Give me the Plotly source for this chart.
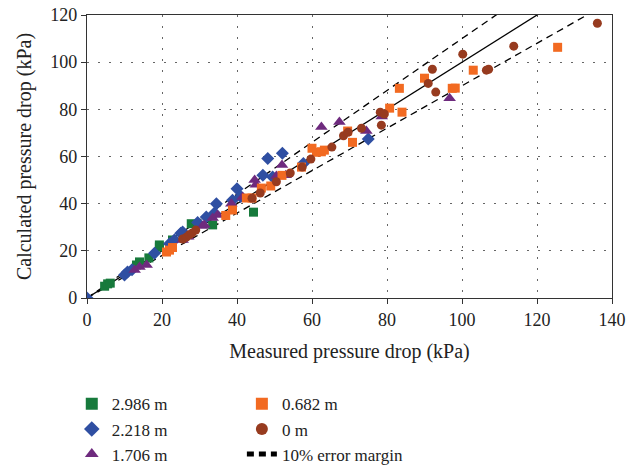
import plotly.graph_objects as go

# Series data (measured, calculated) in kPa
green_x = [4.7, 5.5, 6.2, 13.2, 14.0, 16.5, 19.3, 19.3, 22.8, 27.8, 33.5, 44.4]
green_y = [5.0, 6.0, 6.3, 14.0, 15.3, 17.0, 21.6, 22.5, 24.6, 31.5, 31.0, 36.4]

blue_x = [0, 10.0, 10.8, 12.0, 18.0, 22.0, 23.3, 25.0, 25.5, 29.5, 31.8, 34.0, 34.5, 38.8, 40.0, 41.0, 46.9, 48.2, 49.5, 52.1, 57.7, 75.0]
blue_y = [0, 9.7, 11.0, 12.0, 19.0, 23.0, 24.6, 27.5, 28.0, 32.0, 34.3, 36.0, 40.0, 41.5, 46.3, 43.0, 52.0, 59.2, 51.3, 61.4, 57.0, 67.4]

purple_x = [12.7, 14.0, 15.9, 25.5, 27.0, 30.8, 31.3, 33.5, 34.8, 38.5, 41.5, 44.7, 45.0, 50.5, 52.0, 53.0, 62.5, 67.3, 74.5, 78.6, 96.7]
purple_y = [11.9, 13.1, 14.0, 24.6, 26.0, 30.5, 31.0, 33.9, 35.2, 40.0, 42.8, 50.0, 48.0, 51.7, 56.4, 52.0, 72.5, 74.6, 70.8, 77.0, 84.7]

orange_x = [21.2, 22.0, 22.8, 37.0, 38.8, 42.5, 44.0, 46.5, 49.0, 52.0, 57.2, 60.0, 61.2, 62.5, 63.3, 69.5, 70.8, 80.7, 83.3, 84.0, 90.0, 97.4, 98.2, 103.0, 125.5]
orange_y = [19.5, 20.3, 21.4, 35.0, 37.3, 42.4, 42.4, 46.6, 47.5, 52.0, 55.5, 63.5, 61.8, 62.0, 62.7, 70.8, 66.0, 80.5, 88.9, 78.8, 93.2, 88.9, 89.0, 96.6, 106.3]

brown_x = [25.5, 26.5, 27.3, 28.0, 29.0, 44.0, 46.2, 50.5, 54.2, 57.4, 59.7, 65.3, 68.4, 69.6, 73.2, 78.2, 78.5, 79.3, 91.0, 92.1, 93.0, 100.2, 106.5, 107.1, 113.8, 136.1]
brown_y = [25.0, 25.8, 26.8, 27.5, 28.8, 42.3, 44.5, 49.3, 53.0, 55.5, 58.9, 64.0, 68.8, 70.3, 72.0, 78.8, 73.3, 78.0, 91.0, 97.0, 87.3, 103.4, 96.6, 97.0, 106.8, 116.5]

ref_x = [0, 140]
margin = 0.10

FONT = "Liberation Serif"
TXT = "#222222"

fig = go.Figure()

# reference lines
fig.add_trace(go.Scatter(x=ref_x, y=[v * (1 + margin) for v in ref_x], mode="lines",
                         line=dict(color="black", width=1.3, dash="7px,5px"),
                         name="10% error margin", legend="legend2", legendrank=3))
fig.add_trace(go.Scatter(x=ref_x, y=[v * (1 - margin) for v in ref_x], mode="lines",
                         line=dict(color="black", width=1.3, dash="7px,5px"),
                         showlegend=False))
fig.add_trace(go.Scatter(x=ref_x, y=ref_x, mode="lines",
                         line=dict(color="black", width=1.3), showlegend=False))

series = [
    ("2.986 m", green_x, green_y, "square", "#177a3c", 9, "legend", 1),
    ("2.218 m", blue_x, blue_y, "diamond", "#2f4fa2", 10, "legend", 2),
    ("1.706 m", purple_x, purple_y, "triangle-up", "#6e2a7e", 11, "legend", 3),
    ("0.682 m", orange_x, orange_y, "square", "#f26a21", 9, "legend2", 1),
    ("0 m", brown_x, brown_y, "circle", "#973b1f", 9, "legend2", 2),
]
for name, xs, ys, sym, col, sz, lg, rk in series:
    fig.add_trace(go.Scatter(x=xs, y=ys, mode="markers", name=name,
                             marker=dict(symbol=sym, color=col, size=sz, line=dict(width=0)),
                             legend=lg, legendrank=rk))

axis_common = dict(
    showline=True, linecolor="#333", linewidth=1.2, mirror=True,
    ticks="outside", ticklen=5, tickcolor="#333",
    showgrid=True, gridcolor="#666", gridwidth=1.3, griddash="2px,9px",
    zeroline=False, tickfont=dict(family=FONT, size=18, color=TXT),
    dtick=20, tickangle=0,
)

leg_common = dict(xanchor="left", yanchor="top", bgcolor="rgba(0,0,0,0)",
                  font=dict(family=FONT, size=17, color=TXT), tracegroupgap=0,
                  itemsizing="constant")

# the page adds an 8px body margin, so the figure is sized/offset to compensate
fig.update_layout(
    width=631, height=460,
    margin=dict(l=79, r=27, t=7, b=170, autoexpand=False),
    plot_bgcolor="white", paper_bgcolor="white",
    font=dict(family=FONT, size=17, color=TXT),
    xaxis=dict(range=[0, 140], title=dict(text="Measured pressure drop (kPa)",
               font=dict(family=FONT, size=20, color=TXT), standoff=15), **axis_common),
    yaxis=dict(range=[0, 120], title=dict(text="Calculated pressure drop (kPa)",
               font=dict(family=FONT, size=20, color=TXT), standoff=13), **axis_common),
    legend=dict(x=-0.029, y=-0.312, **leg_common),
    legend2=dict(x=0.295, y=-0.312, **leg_common),
)

fig.write_html("out.html")
